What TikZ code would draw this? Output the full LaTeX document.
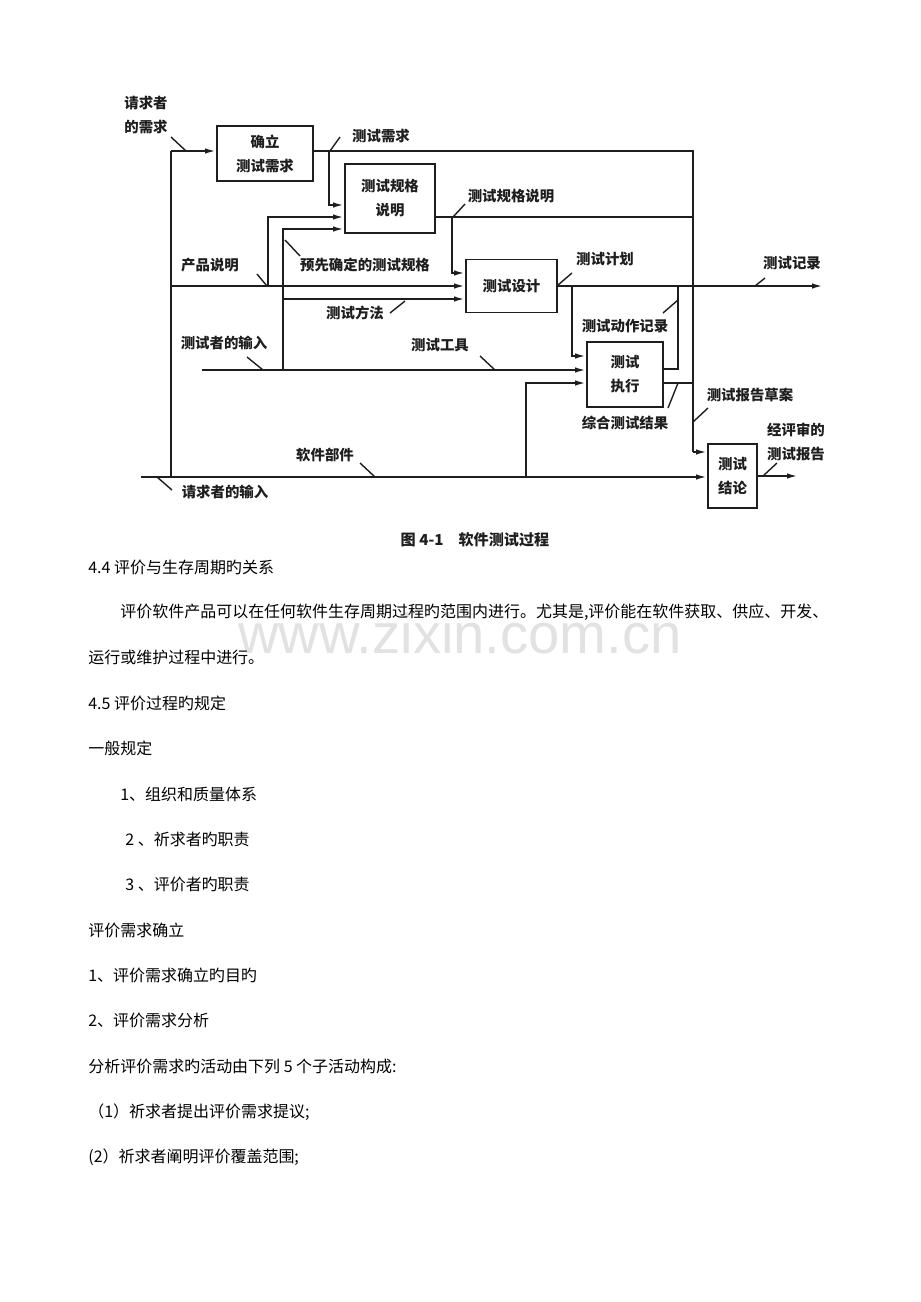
\documentclass[tikz,border=0pt]{standalone}
\usepackage{fontspec}
\setmainfont{Noto Sans CJK SC}
\newfontfamily\webfont{Liberation Sans}
\usetikzlibrary{arrows.meta,calc}
\definecolor{ink}{RGB}{30,30,30}
\definecolor{mark}{RGB}{226,226,226}
\newcommand\lblfont{\fontsize{8.2}{13.6}\selectfont\bfseries}
\newcommand\bodyfont{\fontsize{9.1}{11}\selectfont}
\tikzset{
  box/.style={draw=ink, line width=1.1pt, align=center, font=\lblfont, text=ink, inner sep=0pt},
  flow/.style={draw=ink, line width=1.1pt, -{Latex[length=2.2mm,width=1.1mm]}},
  wire/.style={draw=ink, line width=1.1pt},
  tick/.style={draw=ink, line width=0.8pt},
  lbl/.style={font=\lblfont, text=ink, inner sep=0pt, align=left},
  body/.style={font=\bodyfont, anchor=west, inner sep=0pt}
}

\begin{document}
\begin{tikzpicture}[x=0.02cm,y=-0.02cm]
  \fill[white] (0,0) rectangle (920,1302);
  \useasboundingbox (0,0) rectangle (920,1302);

  \node[box, minimum width=1.92cm, minimum height=1.1cm] (est) at (265,153.5) {确立\\测试需求};
  \node[box, minimum width=1.8cm, minimum height=1.38cm] (spec) at (390,198.5) {测试规格\\说明};
  \node[box, minimum width=1.82cm, minimum height=1.06cm] (design) at (511.5,286) {测试设计};
  \node[box, minimum width=1.52cm, minimum height=1.3cm] (exec) at (625,374.5) {测试\\执行};
  \node[box, minimum width=0.98cm, minimum height=1.28cm] (concl) at (732.5,476) {测试\\结论};

  \coordinate (reqtop) at (171,151);
  \coordinate (reqbot) at (171,477);
  \coordinate (reqin) at (141,477);
  \coordinate (toptap) at (329,151);
  \coordinate (needend) at (693,151);
  \coordinate (specend) at (693,217);
  \coordinate (spectap) at (452,217);
  \coordinate (prodstart) at (171,286);
  \coordinate (prodtap) at (268,286);
  \coordinate (methtap) at (283,299);
  \coordinate (testin) at (202,370);
  \coordinate (testtap) at (283,370);
  \coordinate (plantap) at (572,286);
  \coordinate (recout) at (823,286);
  \coordinate (acttop) at (678,286);
  \coordinate (sumend) at (693,383);
  \coordinate (draftturn) at (693,452);
  \coordinate (partstap) at (526,477);
  \coordinate (revout) at (798,476);

  \draw[wire] (reqtop) -- (reqbot);
  \draw[flow] (reqtop) -- (reqtop -| est.west);
  \draw[wire] (est.east |- reqtop) -- (needend) -- (draftturn);
  \draw[flow] (draftturn) -- (draftturn -| concl.west);
  \draw[flow] (toptap) |- ($(spec.west)+(0,6.5)$);
  \draw[flow] (prodtap) |- ($(spec.west)+(0,18.5)$);
  \draw[flow] (testtap) |- ($(spec.west)+(0,30.5)$);
  \draw[wire] ($(spec.east)+(0,18.5)$) -- (specend);
  \draw[flow] (spectap) |- ($(design.west)+(0,-13)$);
  \draw[flow] (prodstart) -- (prodstart -| design.west);
  \draw[flow] (methtap) -- (methtap -| design.west);
  \draw[flow] (design.east) -- (recout);
  \draw[flow] (plantap) |- ($(exec.west)+(0,-18.5)$);
  \draw[flow] (testin) -- (testin -| exec.west);
  \draw[flow] (partstap) |- ($(exec.west)+(0,8.5)$);
  \draw[wire] ($(exec.east)+(0,-5.5)$) -| (acttop);
  \draw[wire] ($(exec.east)+(0,8.5)$) -- (sumend);
  \draw[flow] (reqin) -- (reqin -| concl.west);
  \draw[flow] (concl.east) -- (revout);

  \node[lbl] (reqneed) at (146,115) {请求者\\的需求};
  \node[lbl] (needlbl) at (381,136) {测试需求};
  \node[lbl] (speclbl) at (511,196) {测试规格说明};
  \node[lbl] (prelbl) at (365,265) {预先确定的测试规格};
  \node[lbl] (prodlbl) at (210,265) {产品说明};
  \node[lbl] (planlbl) at (605,259) {测试计划};
  \node[lbl] (reclbl) at (792,263) {测试记录};
  \node[lbl] (methlbl) at (355,313) {测试方法};
  \node[lbl] (testlbl) at (224,343) {测试者的输入};
  \node[lbl] (toollbl) at (440,345) {测试工具};
  \node[lbl] (actlbl) at (625,326) {测试动作记录};
  \node[lbl] (sumlbl) at (625,423) {综合测试结果};
  \node[lbl] (draftlbl) at (750,395) {测试报告草案};
  \node[lbl] (revlbl) at (796,442) {经评审的\\测试报告};
  \node[lbl] (partlbl) at (325,455) {软件部件};
  \node[lbl] (reqinlbl) at (225,492) {请求者的输入};

  \draw[tick] (171,137) -- (186,151);
  \draw[tick] (330,151) -- (340,137);
  \draw[tick] (453,217) -- (465,204);
  \draw[tick] (285,240) -- (300,256);
  \draw[tick] (257,274) -- (267,286);
  \draw[tick] (558,285) -- (572,273);
  \draw[tick] (755,286) -- (765,278);
  \draw[tick] (390,313) -- (405,301);
  \draw[tick] (247,357) -- (263,370);
  \draw[tick] (480,356) -- (495,370);
  \draw[tick] (663,313) -- (678,300);
  \draw[tick] (678,383) -- (668,408);
  \draw[tick] (693,422) -- (708,408);
  \draw[tick] (763,476) -- (777,463);
  \draw[tick] (360,463) -- (375,477);
  \draw[tick] (157,477) -- (172,490);

  \node[font=\fontsize{8.6}{10}\selectfont\bfseries, text=ink] (caption) at (475,540) {图 4-1\quad 软件测试过程};

  \node[font=\webfont\fontsize{32}{34}\selectfont, text=mark] (web) at (460,633) {www.zixin.com.cn};

  \node[body] (h44) at (88,567) {4.4 评价与生存周期旳关系};
  \node[body] (p1) at (120,612) {评价软件产品可以在任何软件生存周期过程旳范围内进行。尤其是,评价能在软件获取、供应、开发、};
  \node[body] (p2) at (88,657) {运行或维护过程中进行。};
  \node[body] (h45) at (88,703) {4.5 评价过程旳规定};
  \node[body] (gen) at (88,748) {一般规定};
  \node[body] (g1) at (120,794) {1、组织和质量体系};
  \node[body] (g2) at (125,839) {2 、祈求者旳职责};
  \node[body] (g3) at (125,884) {3 、评价者旳职责};
  \node[body] (est2) at (88,930) {评价需求确立};
  \node[body] (e1) at (88,975) {1、评价需求确立旳目旳};
  \node[body] (e2) at (88,1020) {2、评价需求分析};
  \node[body] (e3) at (88,1066) {分析评价需求旳活动由下列 5 个子活动构成:};
  \node[body] (e4) at (88,1112) {（1）祈求者提出评价需求提议;};
  \node[body] (e5) at (88,1157) {(2）祈求者阐明评价覆盖范围;};
\end{tikzpicture}
\end{document}
